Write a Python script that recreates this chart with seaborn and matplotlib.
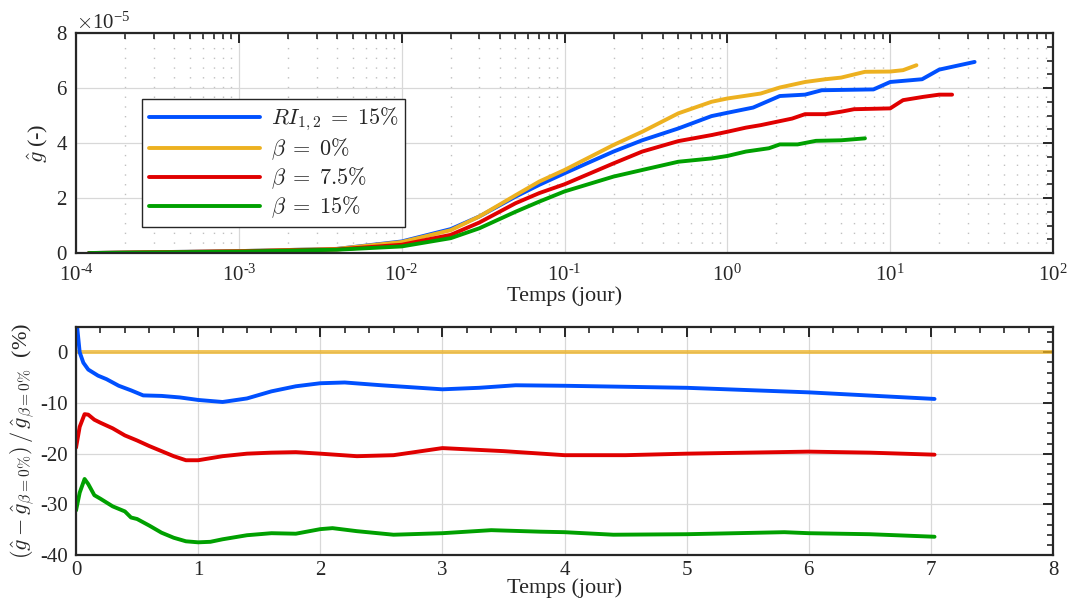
import numpy as np
import matplotlib
matplotlib.use("Agg")
import matplotlib.pyplot as plt
import matplotlib.ticker as mticker
import seaborn as sns
import pandas as pd

# --- top panel: g_hat (x1e-5) vs time (days), log x ---
t_ri = [1.2e-4, 1e-3, 4e-3, 1e-2, 2e-2, 3e-2, 5e-2, 0.07, 0.1, 0.2, 0.3, 0.5, 0.8, 1.0, 1.44,
        2.1, 3.0, 3.8, 7.9, 10, 15.7, 20, 33]
g_ri = [0.0, 0.07, 0.15, 0.42, 0.87, 1.33, 2.05, 2.48, 2.9, 3.69, 4.1, 4.53, 4.98, 5.1, 5.29,
        5.71, 5.76, 5.92, 5.95, 6.22, 6.32, 6.67, 6.95]

t_b0 = [1.2e-4, 1e-3, 4e-3, 1e-2, 2e-2, 3e-2, 5e-2, 0.07, 0.1, 0.2, 0.3, 0.5, 0.8, 1.0, 1.3,
        1.6, 2.1, 3.0, 4.0, 5.0, 7.0, 10, 12, 14.5]
g_b0 = [0.0, 0.07, 0.15, 0.40, 0.83, 1.33, 2.1, 2.6, 3.02, 3.93, 4.41, 5.08, 5.5, 5.62, 5.72,
        5.8, 6.02, 6.22, 6.32, 6.38, 6.59, 6.6, 6.65, 6.83]

t_b75 = [1.2e-4, 1e-3, 4e-3, 1e-2, 2e-2, 3e-2, 5e-2, 0.07, 0.1, 0.2, 0.3, 0.5, 0.8, 1.0, 1.3,
         1.6, 2.0, 2.5, 3.0, 4.0, 5.0, 6.0, 10, 12, 16, 20, 24]
g_b75 = [0.0, 0.06, 0.13, 0.3, 0.66, 1.11, 1.81, 2.18, 2.5, 3.26, 3.69, 4.07, 4.29, 4.41, 4.56,
         4.65, 4.77, 4.89, 5.05, 5.05, 5.14, 5.23, 5.26, 5.56, 5.68, 5.76, 5.76]

t_b15 = [1.2e-4, 1e-3, 4e-3, 1e-2, 2e-2, 3e-2, 5e-2, 0.07, 0.1, 0.2, 0.3, 0.5, 0.8, 1.0, 1.3,
         1.8, 2.1, 2.7, 3.5, 5.0, 7.0]
g_b15 = [0.0, 0.05, 0.12, 0.24, 0.54, 0.9, 1.5, 1.87, 2.24, 2.78, 3.02, 3.32, 3.44, 3.53, 3.69,
         3.81, 3.95, 3.95, 4.08, 4.1, 4.17]

# --- bottom panel: relative difference (%) vs time (days) ---
d_t_yel = [0.0, 8.0]
d_yel = [0.0, 0.0]

d_t_ri = [0.0, 0.01, 0.03, 0.06, 0.1, 0.18, 0.25, 0.35, 0.45, 0.55, 0.7, 0.85, 1.0, 1.2, 1.4,
          1.6, 1.8, 2.0, 2.2, 2.5, 3.0, 3.3, 3.6, 4.0, 5.0, 6.0, 7.03]
d_ri = [7.0, 4.8, 0.0, -2.05, -3.4, -4.6, -5.3, -6.6, -7.5, -8.5, -8.6, -8.9, -9.4, -9.8, -9.1,
        -7.7, -6.7, -6.1, -5.95, -6.5, -7.3, -7.0, -6.5, -6.6, -7.0, -7.9, -9.2]

d_t_b75 = [0.0, 0.03, 0.07, 0.1, 0.15, 0.2, 0.3, 0.4, 0.5, 0.6, 0.7, 0.8, 0.9, 1.0, 1.2, 1.4,
           1.6, 1.8, 2.0, 2.3, 2.6, 3.0, 3.5, 4.0, 4.5, 5.0, 5.5, 6.0, 6.5, 7.03]
d_b75 = [-18.8, -14.7, -12.2, -12.3, -13.3, -13.9, -15.0, -16.4, -17.4, -18.5, -19.5, -20.5,
         -21.3, -21.3, -20.5, -20.0, -19.8, -19.7, -20.0, -20.5, -20.3, -18.9, -19.5, -20.3,
         -20.3, -20.0, -19.8, -19.6, -19.8, -20.2]

d_t_b15 = [0.0, 0.03, 0.07, 0.1, 0.15, 0.2, 0.3, 0.4, 0.45, 0.5, 0.6, 0.7, 0.8, 0.9, 1.0, 1.1,
           1.2, 1.4, 1.6, 1.8, 2.0, 2.1, 2.3, 2.6, 3.0, 3.4, 3.8, 4.0, 4.4, 5.0, 5.8, 6.0, 6.5, 7.03]
d_b15 = [-31.2, -27.7, -25.0, -26.0, -28.2, -28.9, -30.4, -31.4, -32.6, -32.9, -34.2, -35.6,
         -36.6, -37.3, -37.5, -37.4, -36.9, -36.1, -35.7, -35.8, -34.9, -34.7, -35.3, -36.0,
         -35.7, -35.1, -35.4, -35.5, -36.0, -35.9, -35.5, -35.7, -35.9, -36.4]

labels = [r"$RI_{1,2}\;=\;15\%$", r"$\beta\;=\;0\%$", r"$\beta\;=\;7.5\%$", r"$\beta\;=\;15\%$"]
colors = ["#0050ff", "#edb120", "#e00000", "#00a000"]

sns.set_theme(style="white")
plt.rcParams["font.family"] = ["Liberation Serif", "DejaVu Serif"]
plt.rcParams["mathtext.fontset"] = "cm"
plt.rcParams["axes.unicode_minus"] = False

fig = plt.figure(figsize=(10.8, 6.02), dpi=100)
ax1 = fig.add_axes([0.0704, 0.5797, 0.9046, 0.3654])
ax2 = fig.add_axes([0.0704, 0.0781, 0.9046, 0.3787])

top = [(t_ri, g_ri), (t_b0, g_b0), (t_b75, g_b75), (t_b15, g_b15)]
for (tt, gg), lab, col in zip(top, labels, colors):
    df = pd.DataFrame({"t": tt, "g": np.array(gg) * 1e-5})
    sns.lineplot(data=df, x="t", y="g", ax=ax1, color=col, lw=2.8, label=lab)

ax1.set_xscale("log")
ax1.set_xlim(1e-4, 1e2)
ax1.set_ylim(0, 8e-5)
ax1.yaxis.set_major_locator(mticker.MultipleLocator(2e-5))
ax1.yaxis.set_minor_locator(mticker.MultipleLocator(0.5e-5))
fmt = mticker.ScalarFormatter(useMathText=True)
fmt.set_powerlimits((0, 0))
ax1.yaxis.set_major_formatter(fmt)
ax1.yaxis.get_offset_text().set_fontsize(15)
ax1.yaxis.get_offset_text().set_color("#262626")
ax1.xaxis.set_major_formatter(mticker.FuncFormatter(
    lambda v, p: r"$\mathdefault{10^{%s}}$" % ("\u2010" + str(-int(round(np.log10(v)))) if v < 1 else str(int(round(np.log10(v)))))))
ax1.xaxis.set_minor_locator(mticker.LogLocator(base=10, subs=np.arange(2, 10), numticks=20))
ax1.set_xlabel("Temps (jour)", fontsize=16, labelpad=1)
ax1.set_ylabel(r"$\hat{g}$ (-)", fontsize=16)
ax1.grid(True, which="major", color="#d8d8d8", lw=0.9)
ax1.grid(True, which="minor", axis="x", color="#c0c0c0", lw=1.0, linestyle=(0, (1, 6)))
leg = ax1.legend(loc="upper left", bbox_to_anchor=(0.056, 0.75), fontsize=16, fancybox=False,
                 edgecolor="#262626", framealpha=1, handlelength=5.0, borderpad=0.3,
                 labelspacing=0.15, handletextpad=0.5)
leg.get_frame().set_linewidth(1.0)

bottom = [(d_t_yel, d_yel), (d_t_ri, d_ri), (d_t_b75, d_b75), (d_t_b15, d_b15)]
bcolors = [colors[1], colors[0], colors[2], colors[3]]
for (tt, dd), col in zip(bottom, bcolors):
    df = pd.DataFrame({"t": tt, "d": dd})
    sns.lineplot(data=df, x="t", y="d", ax=ax2, color=col, lw=2.8,
                 alpha=0.75 if col == colors[1] else 1.0)

ax2.set_xlim(0, 8)
ax2.set_ylim(-40, 5)
ax2.xaxis.set_major_locator(mticker.MultipleLocator(1))
ax2.xaxis.set_minor_locator(mticker.MultipleLocator(0.2))
ax2.yaxis.set_major_locator(mticker.MultipleLocator(10))
ax2.yaxis.set_minor_locator(mticker.MultipleLocator(2))
ax2.set_xlabel("Temps (jour)", fontsize=16, labelpad=-1)
ax2.set_ylabel(r"$(\hat{g} - \hat{g}_{\beta=0\%})\,/\,\hat{g}_{\beta=0\%}$  (%)", fontsize=16,
               labelpad=2)
ax2.grid(True, which="major", color="#d8d8d8", lw=0.9)

for ax in (ax1, ax2):
    ax.set_axisbelow(True)
    for s in ax.spines.values():
        s.set_color("#262626")
        s.set_linewidth(1.6)
    ax.tick_params(which="both", direction="in", top=True, right=True, colors="#262626",
                   labelsize=15, labelcolor="#262626")
    ax.tick_params(which="major", length=7, width=1.4)
    ax.tick_params(which="minor", length=4, width=1.2)
    ax.tick_params(axis="y", which="major", pad=6)
    ax.xaxis.label.set_color("#262626")
    ax.yaxis.label.set_color("#262626")
ax1.tick_params(axis="x", which="major", pad=8)
ax2.tick_params(axis="x", which="major", pad=4)

fig.savefig("out.png", dpi=100)
